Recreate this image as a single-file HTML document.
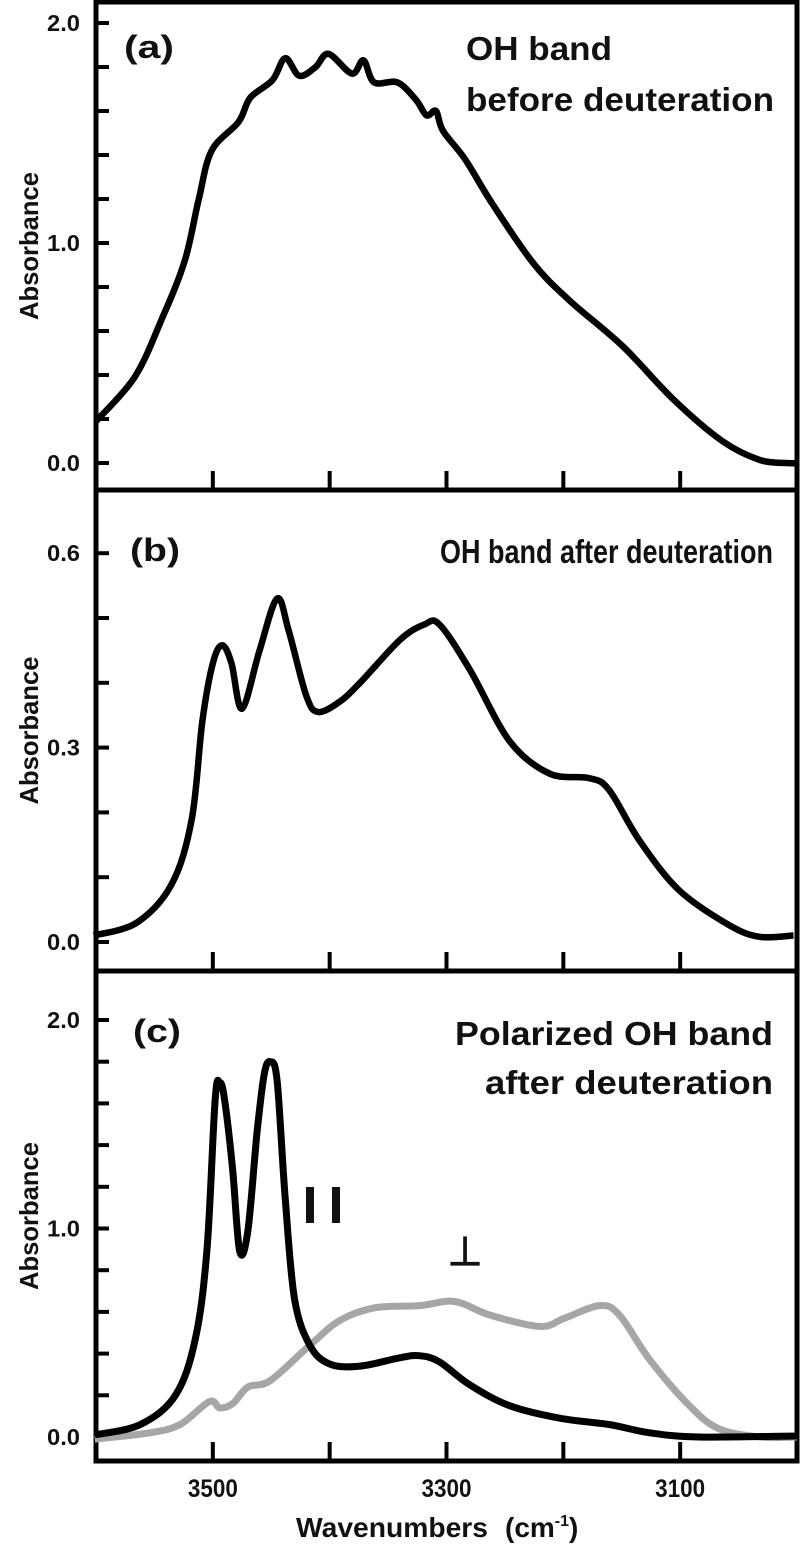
<!DOCTYPE html>
<html><head><meta charset="utf-8"><style>
html,body{margin:0;padding:0;background:#fff}
svg{display:block}
text{font-family:"Liberation Sans",Arial,sans-serif;font-weight:bold;fill:#111}
</style></head><body>
<svg id="fig" width="800" height="1544" viewBox="0 0 800 1544" xmlns="http://www.w3.org/2000/svg"></svg>
<script>
// Shared x ticks
const xTicks = [3500, 3400, 3300, 3200, 3100];
const xTickLabels = ["3500", "3300", "3100"];
const xLabelValues = [3500, 3300, 3100];

// Panel (a) data
const aWave = [3600,3567,3544,3524,3512,3501,3478,3468,3449,3438,3426,3412,3401,3381,3371,3362,3342,3326,3317,3309,3303,3284,3261,3226,3195,3149,3106,3064,3032,3009,3000];
const aAbs  = [0.19,0.39,0.65,0.92,1.2,1.42,1.55,1.66,1.74,1.84,1.76,1.80,1.86,1.77,1.83,1.73,1.73,1.65,1.58,1.60,1.51,1.38,1.18,0.91,0.74,0.53,0.29,0.10,0.014,0.0,0.0];
const aTickLabels = ["0.0","1.0","2.0"];

// Panel (b) data
const bWave = [3602,3565,3535,3518,3509,3500,3492,3484,3475,3460,3445,3435,3420,3410,3392,3374,3340,3319,3306,3280,3246,3212,3178,3161,3135,3101,3058,3032,3003];
const bAbs  = [0.01,0.03,0.09,0.19,0.34,0.43,0.458,0.43,0.36,0.45,0.53,0.48,0.38,0.355,0.37,0.40,0.466,0.49,0.49,0.42,0.31,0.26,0.253,0.235,0.157,0.08,0.026,0.008,0.01];
const bTickLabels = ["0.0","0.3","0.6"];

// Panel (c) data
const cParWave = [3601,3562,3532,3515,3505,3498,3494,3490,3483,3477,3470,3462,3456,3451,3445,3438,3430,3417,3400,3374,3340,3323,3306,3280,3246,3203,3161,3126,3084,3000];
const cParAbs  = [0.01,0.06,0.2,0.47,0.9,1.62,1.70,1.62,1.28,0.89,0.99,1.47,1.74,1.80,1.71,1.14,0.66,0.44,0.35,0.34,0.38,0.39,0.36,0.25,0.15,0.09,0.06,0.02,0.0,0.005];
const cPerpWave = [3601,3554,3528,3503,3494,3483,3470,3451,3417,3391,3361,3323,3293,3263,3220,3199,3169,3152,3126,3092,3067,3032,3000];
const cPerpAbs  = [-0.01,0.02,0.06,0.17,0.14,0.16,0.24,0.27,0.44,0.56,0.62,0.63,0.65,0.585,0.53,0.57,0.63,0.585,0.37,0.15,0.04,0.0,0.0];
const cTickLabels = ["0.0","1.0","2.0"];

const NS = "http://www.w3.org/2000/svg";
const svg = document.getElementById("fig");
const L = 96, R = 797;
function xs(w){ return L + (3600 - w) * (R - L) / 600; }
function mk(tag, attrs, parent){
  const e = document.createElementNS(NS, tag);
  for (const k in attrs) e.setAttribute(k, attrs[k]);
  (parent || svg).appendChild(e);
  return e;
}
function txt(s, attrs){ const e = mk("text", attrs); e.textContent = s; return e; }

const panels = [
  {id:"a", top:2, bottom:490, y0:463, perUnit:220, minor:0.2, max:2.0, labels:aTickLabels, labelVals:[0,1,2]},
  {id:"b", top:490, bottom:971, y0:942, perUnit:648, minor:0.1, max:0.6, labels:bTickLabels, labelVals:[0,0.3,0.6]},
  {id:"c", top:971, bottom:1461, y0:1437, perUnit:208.5, minor:0.2, max:2.0, labels:cTickLabels, labelVals:[0,1,2]}
];

function linePath(wave, abs, p){
  const pts = wave.map((w, i) => [xs(w), p.y0 - abs[i] * p.perUnit]);
  let d = "M" + pts[0][0].toFixed(1) + "," + pts[0][1].toFixed(1);
  for (let i = 0; i < pts.length - 1; i++){
    const p0 = pts[Math.max(0, i-1)], p1 = pts[i], p2 = pts[i+1], p3 = pts[Math.min(pts.length-1, i+2)];
    const c1x = p1[0] + (p2[0]-p0[0])/6, c1y = p1[1] + (p2[1]-p0[1])/6;
    const c2x = p2[0] - (p3[0]-p1[0])/6, c2y = p2[1] - (p3[1]-p1[1])/6;
    d += "C" + c1x.toFixed(1) + "," + c1y.toFixed(1) + " " + c2x.toFixed(1) + "," + c2y.toFixed(1) + " " + p2[0].toFixed(1) + "," + p2[1].toFixed(1);
  }
  return d;
}

panels.forEach(p => {
  const g = mk("g", {});
  
  
  const fr = mk("rect", {x:L, y:p.top, width:R-L, height:p.bottom-p.top, fill:"none", stroke:"#000", "stroke-width":5}, g);
  
  
  const n = Math.round(p.max / p.minor);
  for (let i = 0; i <= n; i++){
    const y = p.y0 - i * p.minor * p.perUnit;
    const t = mk("line", {x1:L, x2:L+13, y1:y, y2:y, stroke:"#000", "stroke-width":4}, g);
    
    
  }
  p.labels.forEach((s, i) => {
    const t = txt(s, {x:80, y:p.y0 - p.labelVals[i]*p.perUnit + 8, "text-anchor":"end", "font-size":23, textLength:33, lengthAdjust:"spacingAndGlyphs"});
    
    
  });
  xTicks.forEach(w => {
    const t = mk("line", {x1:xs(w), x2:xs(w), y1:p.bottom, y2:p.bottom-19, stroke:"#000", "stroke-width":4}, g);
    
    
  });
  const cy = (p.top + p.bottom) / 2;
  const yt = txt("Absorbance", {x:0, y:0, "font-size":26, "text-anchor":"middle", textLength:148, lengthAdjust:"spacingAndGlyphs", transform:"translate(38," + cy + ") rotate(-90)"});
  
  
});

const pa = panels[0], pb = panels[1], pc = panels[2];
let s;
s = mk("path", {d:linePath(aWave, aAbs, pa), fill:"none", stroke:"#000", "stroke-width":6.5, "stroke-linejoin":"round"});


s = mk("path", {d:linePath(bWave, bAbs, pb), fill:"none", stroke:"#000", "stroke-width":6.5, "stroke-linejoin":"round"});


s = mk("path", {d:linePath(cPerpWave, cPerpAbs, pc), fill:"none", stroke:"#a6a6a6", "stroke-width":7, "stroke-linejoin":"round"});


s = mk("path", {d:linePath(cParWave, cParAbs, pc), fill:"none", stroke:"#000", "stroke-width":7, "stroke-linejoin":"round"});



function label(str, x, y, size, name, anchor, len){
  const a = {x:x, y:y, "font-size":size};
  if (anchor) a["text-anchor"] = anchor;
  if (len){ a.textLength = len; a.lengthAdjust = "spacingAndGlyphs"; }
  const t = txt(str, a);
  
  
}
label("(a)", 124, 58, 32, "panel-a-label", null, 50);
label("OH band", 466, 60, 33, "panel-a-title-line1", null, 146);
label("before deuteration", 466, 111, 33, "panel-a-title-line2", null, 308);
label("(b)", 130, 561, 32, "panel-b-label", null, 50);
label("OH band after deuteration", 440, 563, 33, "panel-b-title", null, 333);
label("(c)", 133, 1042, 32, "panel-c-label", null, 48);
label("Polarized OH band", 455, 1045, 33, "panel-c-title-line1", null, 318);
label("after deuteration", 485, 1094, 33, "panel-c-title-line2", null, 288);

// "II" parallel symbol as two bars
const bar1 = mk("rect", {x:306, y:1187, width:8, height:36, fill:"#111"});


const bar2 = mk("rect", {x:332, y:1187, width:8, height:36, fill:"#111"});


label("⊥", 465, 1265, 40, "perpendicular-label", "middle");

xLabelValues.forEach((w, i) => {
  const t = txt(xTickLabels[i], {x:xs(w), y:1497, "text-anchor":"middle", "font-size":25, textLength:50, lengthAdjust:"spacingAndGlyphs"});
  
  
});
const xt = mk("text", {x:296, y:1537, "font-size":28});


const t1 = mk("tspan", {textLength:192, lengthAdjust:"spacingAndGlyphs"}, xt);
t1.textContent = "Wavenumbers";
const t2 = mk("tspan", {x:505}, xt);
t2.textContent = "(cm";
const sup = mk("tspan", {"font-size":16, dy:-11}, xt);
sup.textContent = "-1";
const cl = mk("tspan", {dy:11}, xt);
cl.textContent = ")";
</script>
</body></html>
